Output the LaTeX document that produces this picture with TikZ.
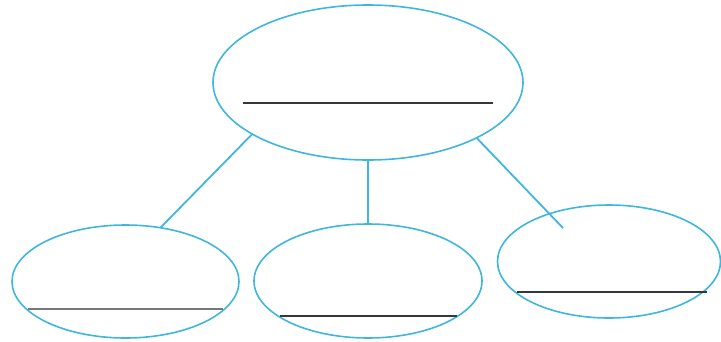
\documentclass[tikz,border=0pt]{standalone}
\usetikzlibrary{shapes.geometric,calc}
\definecolor{bubble}{RGB}{62,182,222}
\definecolor{rulecol}{RGB}{55,55,55}
\definecolor{rulegray}{RGB}{120,120,120}
\tikzset{
  bubblenode/.style={ellipse, draw=bubble, line width=1.6pt, inner sep=0pt, outer sep=0pt},
  link/.style={draw=bubble, line width=1.8pt},
  writeline/.style={draw=rulecol, line width=2.2pt},
}
\begin{document}
\begin{tikzpicture}[x=1pt,y=-1pt]
\useasboundingbox (0,0) rectangle (721,341);
\node[bubblenode, minimum width=310pt, minimum height=155pt] (top) at (368,82.5) {};
\node[bubblenode, minimum width=227pt, minimum height=113pt] (left) at (125.5,281.5) {};
\node[bubblenode, minimum width=228pt, minimum height=114pt] (mid) at (368,281) {};
\node[bubblenode, minimum width=223pt, minimum height=113pt] (right) at (609,261.5) {};
\coordinate (rend) at ($(right.center)+(-46,-33.5)$);
\draw[link] (top.204) -- (left.57);
\draw[link] (top.south) -- (mid.north);
\draw[link] (top.-27) -- (rend);
\draw[writeline] ($(top.center)+(-125,20.5)$) -- ++(250,0);
\draw[writeline, draw=rulegray] ($(left.center)+(-97.5,27.5)$) -- ++(195,0);
\draw[writeline] ($(mid.center)+(-88,35)$) -- ++(177,0);
\draw[writeline] ($(right.center)+(-92,30.5)$) -- ++(190,0);
\end{tikzpicture}
\end{document}
